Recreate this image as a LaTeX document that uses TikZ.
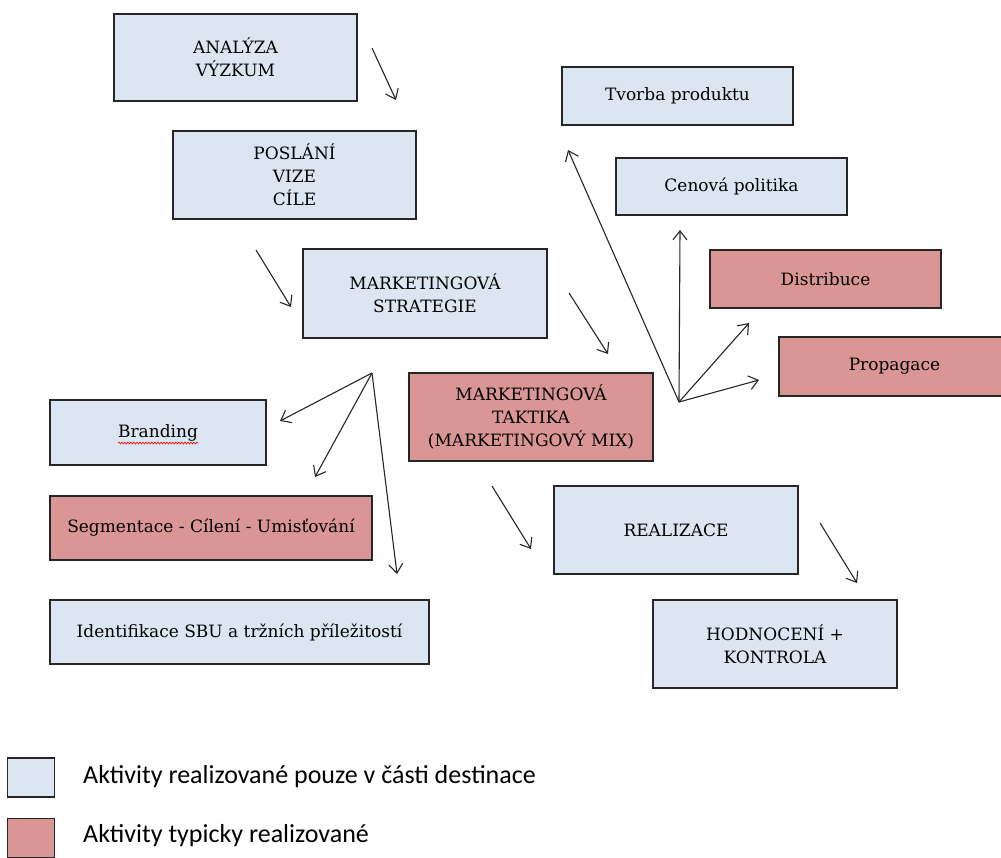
\documentclass[tikz,border=0pt]{standalone}
\usepackage{fontspec}
\setmainfont{DejaVu Serif}
\newfontfamily\legendfont{Carlito}
\usetikzlibrary{arrows.meta,decorations.pathmorphing}
\definecolor{boxblue}{HTML}{DCE6F2}
\definecolor{boxred}{HTML}{D99694}
\definecolor{edgecol}{HTML}{262626}
\tikzset{
  box/.style={draw=edgecol, line width=1.3pt, inner sep=0pt, align=center,
    font=\fontsize{17}{23}\selectfont},
  bluebox/.style={box, fill=boxblue},
  redbox/.style={box, fill=boxred},
  arr/.style={draw=edgecol, line width=1.1pt, -{Straight Barb[length=9pt,width=14pt,line width=1.1pt]}},
  legbox/.style={draw=edgecol, line width=1.3pt, inner sep=0pt, minimum width=47pt, minimum height=39pt},
  legtext/.style={anchor=west, inner sep=0pt, font=\legendfont\fontsize{26}{30}\selectfont}
}
\begin{document}
\begin{tikzpicture}[x=1pt,y=-1pt]
\path[use as bounding box] (0,0) rectangle (1001,857);
% left column
\node[bluebox, minimum width=243pt, minimum height=87pt] (ana) at (235.5,57.5) {ANALÝZA\\VÝZKUM};
\node[bluebox, minimum width=243pt, minimum height=88pt] (pos) at (294.5,175) {POSLÁNÍ\\VIZE\\CÍLE};
\node[bluebox, minimum width=244pt, minimum height=89pt] (str) at (425,293.5) {MARKETINGOVÁ\\STRATEGIE};
\node[redbox, minimum width=244pt, minimum height=88pt] (tak) at (531,417) {MARKETINGOVÁ\\TAKTIKA\\(MARKETINGOVÝ MIX)};
\node[bluebox, minimum width=244pt, minimum height=88pt] (rea) at (676,530) {REALIZACE};
\node[bluebox, minimum width=244pt, minimum height=88pt] (hod) at (775,644) {HODNOCENÍ +\\KONTROLA};
% strategy outcomes
\node[bluebox, minimum width=216pt, minimum height=65pt] (bra) at (158,432.5) {Branding};
\node[redbox, minimum width=322pt, minimum height=64pt] (seg) at (211,528) {Segmentace - Cílení - Umisťování};
\node[bluebox, minimum width=379pt, minimum height=64pt] (ide) at (239.5,632) {Identifikace SBU a tržních příležitostí};
% marketing mix
\node[bluebox, minimum width=231pt, minimum height=58pt] (tvo) at (677.5,96) {Tvorba produktu};
\node[bluebox, minimum width=231pt, minimum height=57pt] (cen) at (731.5,186.5) {Cenová politika};
\node[redbox, minimum width=231pt, minimum height=58pt] (dis) at (825.5,279) {Distribuce};
\node[redbox, minimum width=231pt, minimum height=59pt] (pro) at (894.5,366.5) {Propagace};
% spell-check squiggle under Branding
\draw[red, line width=0.6pt, decorate, decoration={snake, amplitude=1pt, segment length=3pt}]
  ([xshift=-40pt,yshift=-10.5pt]bra.center) -- ([xshift=40pt,yshift=-10.5pt]bra.center);
% arrow coordinates
\coordinate (a1s) at (372,48);  \coordinate (a1e) at (396,100);
\coordinate (a2s) at (256,250); \coordinate (a2e) at (291,307);
\coordinate (a3s) at (569,293); \coordinate (a3e) at (608,354);
\coordinate (a4s) at (492,486); \coordinate (a4e) at (531,549);
\coordinate (a5s) at (820,523); \coordinate (a5e) at (857,583);
\coordinate (fs) at (372,373);
\coordinate (fsb) at (280,421); \coordinate (fss) at (315,477); \coordinate (fsi) at (397,574);
\coordinate (ft) at (679,402);
\coordinate (ftt) at (568,150); \coordinate (ftc) at (680,230); \coordinate (ftd) at (749,323); \coordinate (ftp) at (759,380);
\draw[arr] (a1s) -- (a1e);
\draw[arr] (a2s) -- (a2e);
\draw[arr] (a3s) -- (a3e);
\draw[arr] (a4s) -- (a4e);
\draw[arr] (a5s) -- (a5e);
\draw[arr] (fs) -- (fsb);
\draw[arr] (fs) -- (fss);
\draw[arr] (fs) -- (fsi);
\draw[arr] (ft) -- (ftt);
\draw[arr] (ft) -- (ftc);
\draw[arr] (ft) -- (ftd);
\draw[arr] (ft) -- (ftp);
% legend
\node[legbox, fill=boxblue] (lb) at (31,777.5) {};
\node[legbox, fill=boxred] (lr) at (31,838) {};
\node[legtext] (lbt) at (83,777) {Aktivity realizované pouze v části destinace};
\node[legtext] (lrt) at (83,836) {Aktivity typicky realizované};
\end{tikzpicture}
\end{document}
